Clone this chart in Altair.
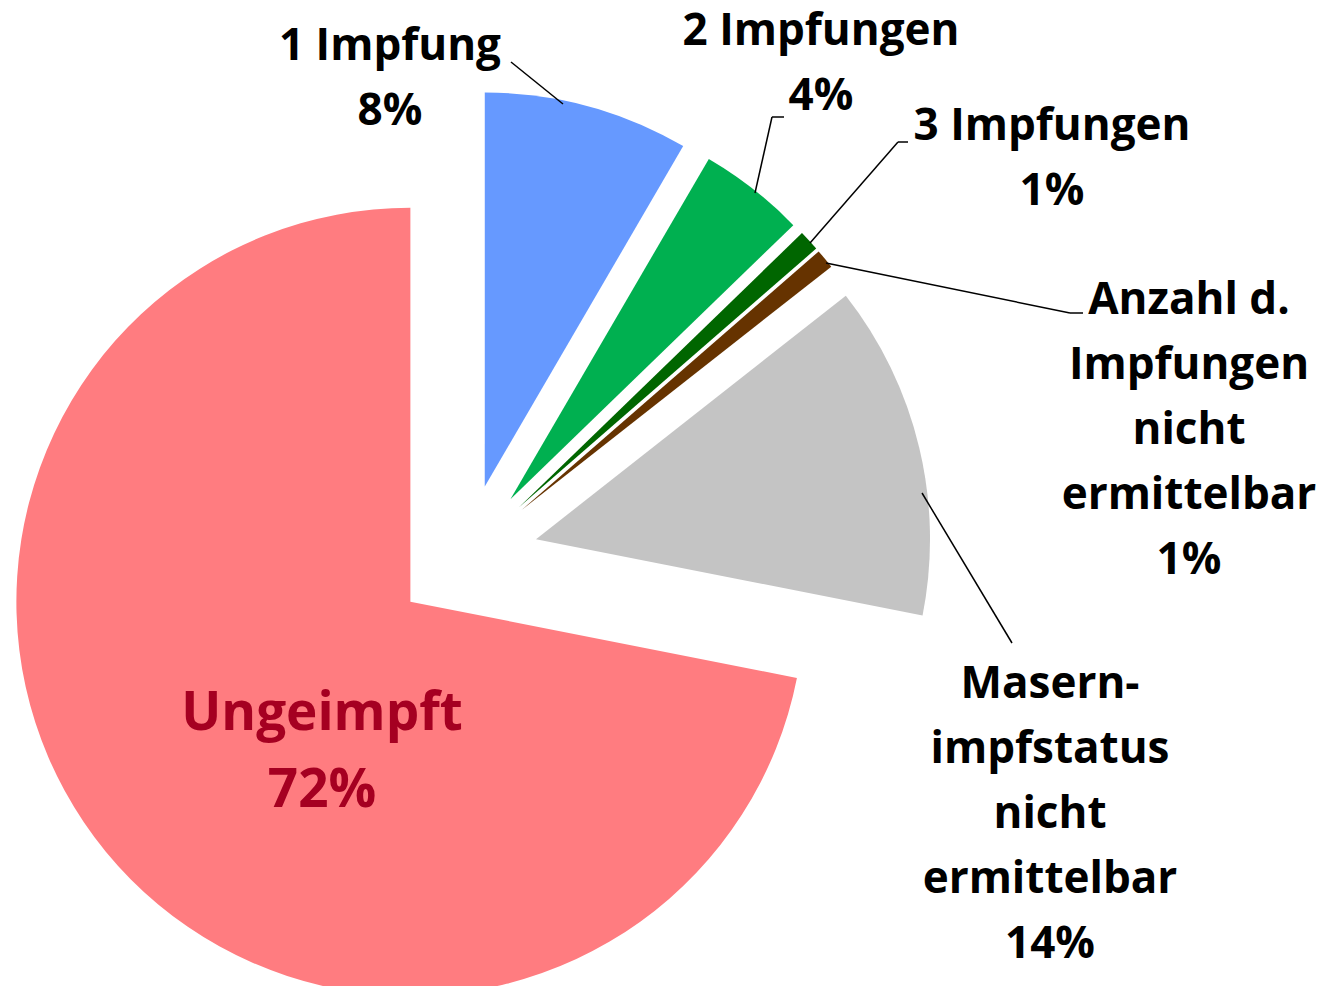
import math
import altair as alt
import pandas as pd

# ---- data ----
categories = ["1 Impfung", "2 Impfungen", "3 Impfungen",
              "Anzahl d. Impfungen nicht ermittelbar",
              "Masernimpfstatus nicht ermittelbar", "Ungeimpft"]
shares = [8.4, 4.35, 0.85, 0.8, 13.7, 71.9]
label_lines = [["1 Impfung"], ["2 Impfungen"], ["3 Impfungen"],
               ["Anzahl d.", "Impfungen", "nicht", "ermittelbar"],
               ["Masern-", "impfstatus", "nicht", "ermittelbar"],
               ["Ungeimpft"]]

# ---- styles / layout ----
colors = ["#6699FF", "#00B050", "#006600", "#663300", "#C4C4C4", "#FF7C80"]
text_colors = ["#000000"] * 5 + ["#A50021"]
CX, CY = 458, 548        # pie centre (px)
R = 394                  # pie radius
EXPLODE = 72             # explosion distance of every slice
label_x = [382, 813, 1044, 1181, 1042, 314]
label_y = [52, 37, 132, 306, 690, 722]   # baseline of first line
leader_segments = [
    (503, 54, 555, 96),
    (776, 109, 764, 109), (764, 109, 747, 185),
    (900, 134, 890, 134), (890, 134, 802, 235),
    (818, 255, 1062, 305), (1062, 305, 1075, 305),
    (914, 485, 1004, 635),
]
FONT = "Open Sans"

df = pd.DataFrame({
    "order": list(range(len(categories))),
    "category": categories,
    "share": shares,
    "color": colors,
})

pie = (
    alt.Chart(df)
    .transform_window(cum="sum(share)", sort=[alt.SortField("order")], frame=[None, 0])
    .transform_joinaggregate(total="sum(share)")
    .transform_calculate(t0="(datum.cum - datum.share) / datum.total")
    .transform_calculate(t1="datum.cum / datum.total")
    .transform_calculate(mid="(datum.t0 + datum.t1) * PI")
    .transform_calculate(cx=f"{CX} + {EXPLODE} * sin(datum.mid)")
    .transform_calculate(cy=f"{CY} - {EXPLODE} * cos(datum.mid)")
    .mark_arc(outerRadius=R, innerRadius=0, strokeWidth=0)
    .encode(
        x=alt.X("cx:Q", scale=None, axis=None),
        y=alt.Y("cy:Q", scale=None, axis=None),
        theta=alt.Theta("t0:Q", scale=alt.Scale(domain=[0, 1], range=[0, 2 * math.pi])),
        theta2="t1:Q",
        color=alt.Color("color:N", scale=None),
    )
)

labels = pd.DataFrame({
    "text": ["\n".join(lines + [f"{round(v)}%"]) for lines, v in zip(label_lines, shares)],
    "lx": label_x,
    "ly": label_y,
    "tc": text_colors,
    "big": [0, 0, 0, 0, 0, 1],
})

text_small = (
    alt.Chart(labels).transform_filter("datum.big == 0")
    .mark_text(font=FONT, fontWeight="bold", fontSize=44, lineHeight=65,
               lineBreak="\n", align="center", baseline="alphabetic")
    .encode(x=alt.X("lx:Q", scale=None), y=alt.Y("ly:Q", scale=None),
            text="text:N", color=alt.Color("tc:N", scale=None))
)
text_big = (
    alt.Chart(labels).transform_filter("datum.big == 1")
    .mark_text(font=FONT, fontWeight="bold", fontSize=53, lineHeight=77,
               lineBreak="\n", align="center", baseline="alphabetic")
    .encode(x=alt.X("lx:Q", scale=None), y=alt.Y("ly:Q", scale=None),
            text="text:N", color=alt.Color("tc:N", scale=None))
)

seg = pd.DataFrame(leader_segments, columns=["x1", "y1", "x2", "y2"])
leaders = (
    alt.Chart(seg)
    .mark_rule(color="black", strokeWidth=1.5)
    .encode(x=alt.X("x1:Q", scale=None), y=alt.Y("y1:Q", scale=None),
            x2="x2:Q", y2="y2:Q")
)

chart = (
    alt.layer(pie, leaders, text_small, text_big)
    .properties(width=1311, height=978, padding=0, autosize="none", background="white")
    .configure_view(stroke=None)
)

chart.save("out.html", embed_options={"renderer": "svg", "actions": False})
